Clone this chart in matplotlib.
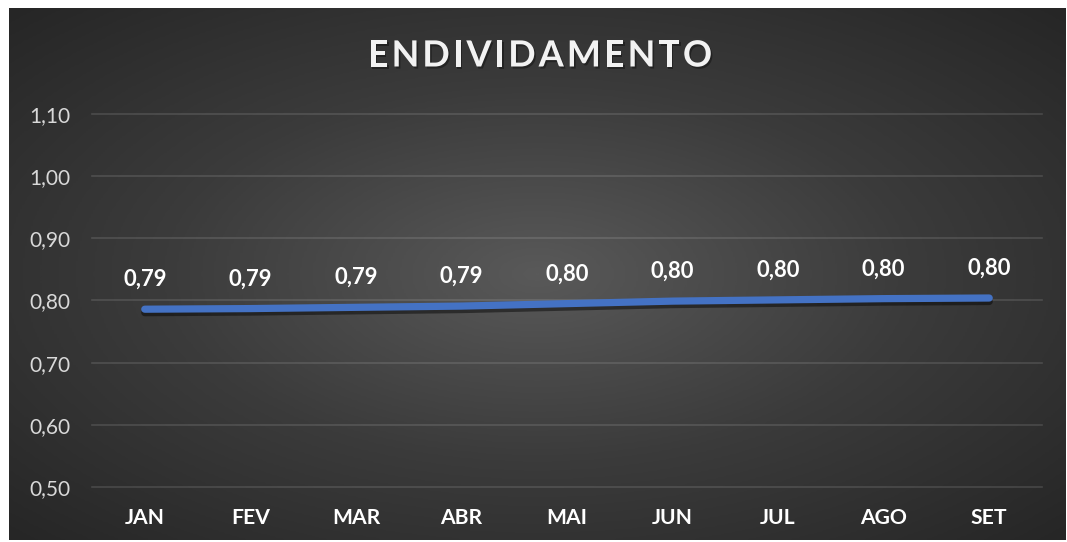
import numpy as np
import matplotlib
matplotlib.use('Agg')
import matplotlib.pyplot as plt
import matplotlib.patheffects as pe
from matplotlib.colors import LinearSegmentedColormap

months = ['JAN', 'FEV', 'MAR', 'ABR', 'MAI', 'JUN', 'JUL', 'AGO', 'SET']
values = [0.786, 0.787, 0.789, 0.791, 0.795, 0.799, 0.801, 0.803, 0.804]
value_labels = ['0,79', '0,79', '0,79', '0,79', '0,80', '0,80', '0,80', '0,80', '0,80']
yticks = [0.50, 0.60, 0.70, 0.80, 0.90, 1.00, 1.10]
ytick_labels = ['0,50', '0,60', '0,70', '0,80', '0,90', '1,00', '1,10']
title = 'ENDIVIDAMENTO'

FONT = ['Lato', 'DejaVu Sans']
W, H = 1067, 542
fig = plt.figure(figsize=(W / 100, H / 100), dpi=100, facecolor='white')

# background radial gradient
bg = fig.add_axes([9 / W, 2 / H, (1066 - 9) / W, (534 - 2) / H])
bg.set_axis_off()
nx, ny = 500, 260
xx, yy = np.meshgrid(np.linspace(-1, 1, nx), np.linspace(-1, 1, ny))
r = np.sqrt(xx ** 2 + yy ** 2) / np.sqrt(2)
cmap = LinearSegmentedColormap.from_list('g', ['#595959', '#3b3b3b', '#262626'])
bg.imshow(r, cmap=cmap, aspect='auto', extent=[0, 1, 0, 1], vmin=0, vmax=1,
          interpolation='bilinear')
bg.set_xlim(0, 1)
bg.set_ylim(0, 1)

ax = fig.add_axes([92 / W, 55 / H, 950 / W, 373 / H])
ax.set_facecolor('none')
for s in ax.spines.values():
    s.set_visible(False)
ax.set_xlim(-0.5, len(months) - 0.5)
ax.set_ylim(0.5, 1.1)
for y in yticks:
    ax.axhline(y, color='white', alpha=0.13, lw=1.2, clip_on=False, zorder=1)

x = np.arange(len(months))
ax.plot(x, values, color='#4472C4', lw=5.2, solid_capstyle='round', zorder=3,
        path_effects=[pe.SimpleLineShadow(offset=(0, -2.5), shadow_color='black', alpha=0.45),
                      pe.Normal()])

ax.set_yticks(yticks)
ax.set_yticklabels(ytick_labels)
ax.set_xticks([])
ax.tick_params(axis='y', length=0, pad=15.5, labelcolor='#d9d9d9', labelsize=15)
for t in ax.get_yticklabels():
    t.set_family(FONT)

for xi, m in zip(x, months):
    ax.annotate(m, (xi, 0.5), xytext=(0, -22.5), textcoords='offset points',
                ha='center', va='center', color='white', fontsize=15.2,
                fontweight='bold', family=FONT, annotation_clip=False)

for xi, v, lab in zip(x, values, value_labels):
    ax.annotate(lab, (xi, v), xytext=(0, 21.5), textcoords='offset points',
                ha='center', va='center', color='white', fontsize=15.8,
                fontweight='bold', family=FONT)

# title with letter spacing
fig.canvas.draw()
renderer = fig.canvas.get_renderer()
tprops = dict(fontsize=26, fontweight='bold', family=FONT, color='#f2f2f2',
              va='center', ha='left',
              path_effects=[pe.withSimplePatchShadow(offset=(1.2, -1.5), shadow_rgbFace='black', alpha=0.35)])
widths = []
for ch in title:
    t = fig.text(0, 0, ch, **tprops)
    widths.append(t.get_window_extent(renderer).width)
    t.remove()
spacing = 3.0
total = sum(widths) + spacing * (len(title) - 1)
x0 = 540 - total / 2
yc = 1 - 56 / H
for ch, w in zip(title, widths):
    fig.text(x0 / W, yc, ch, **tprops)
    x0 += w + spacing

fig.savefig('out.png', dpi=100, facecolor='white')
